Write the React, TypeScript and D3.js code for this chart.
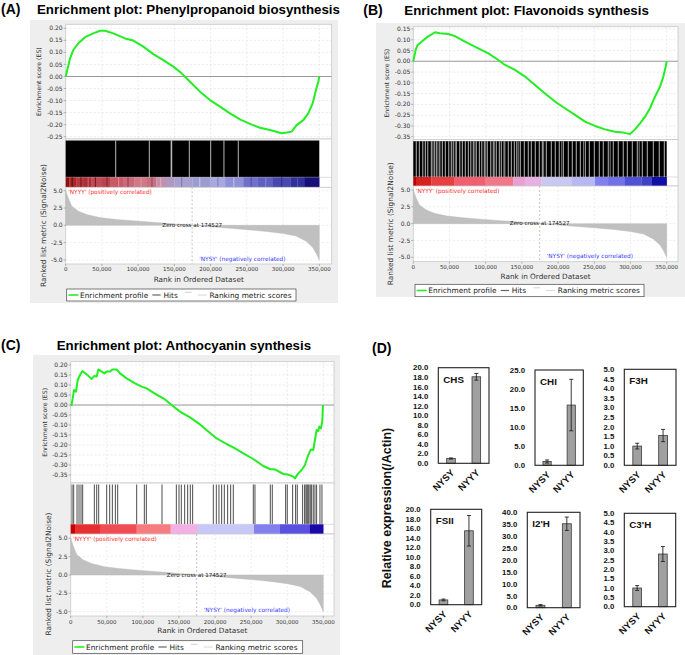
import React from 'react';
import * as d3 from 'd3';

// ---------------- GSEA shared data ----------------
const RANK_MAX = 350000;
const rankTicks = [0, 50000, 100000, 150000, 200000, 250000, 300000, 350000];
const metricTicks = [5.0, 2.5, 0.0, -2.5, -5.0];
const zeroCross = 174527;

const metricScores: [number, number][] = [
  [0, 5.0], [1400, 4.6], [3700, 3.9], [8300, 2.8], [17500, 2.05], [29000, 1.55], [47000, 1.12],
  [70000, 0.86], [93000, 0.66], [116000, 0.48], [139000, 0.3], [160000, 0.12], [174527, 0],
  [190000, -0.12], [208000, -0.28], [231000, -0.46], [254000, -0.66], [277000, -0.88],
  [300000, -1.18], [318000, -1.55], [332000, -2.3], [341000, -3.2], [346000, -4.1], [350000, -5.0],
];

// ---------------- Panel A ----------------
const esTicksA = [0.2, 0.15, 0.1, 0.05, 0.0, -0.05, -0.1, -0.15, -0.2, -0.25];
const esA: [number, number][] = [
  [0, 0], [2760, 0.034], [5980, 0.075], [10580, 0.11], [17480, 0.138], [26670, 0.163], [38170, 0.179],
  [47370, 0.19], [54270, 0.19], [65770, 0.179], [81860, 0.158], [93360, 0.149], [107160, 0.124],
  [120950, 0.093], [134750, 0.068], [148550, 0.041], [160050, 0.013], [171540, -0.022], [185340, -0.063],
  [199140, -0.098], [212930, -0.125], [226730, -0.153], [240530, -0.178], [254320, -0.197],
  [268120, -0.213], [281920, -0.222], [298010, -0.236], [304910, -0.233], [311810, -0.229],
  [318710, -0.202], [327910, -0.181], [334810, -0.153], [340790, -0.112], [345390, -0.056],
  [348610, -0.022], [350000, 0.0],
];
const hitGapsA = [69000, 115400, 145500, 146300, 170600, 200100, 218400, 238200];
const colorsA: [number, number, string][] = [
  [0, 5000, '#8c1010'], [5000, 15000, '#a82828'], [15000, 25000, '#b83a40'], [25000, 35000, '#a83038'],
  [35000, 50000, '#c04a55'], [50000, 62000, '#b84450'], [62000, 80000, '#c85a68'], [80000, 95000, '#c86878'],
  [95000, 112000, '#d07888'], [112000, 125000, '#c87080'], [125000, 137000, '#c890a8'], [137000, 150000, '#b098c0'],
  [150000, 175000, '#a8a0d0'], [175000, 200000, '#9c9cd0'], [200000, 220000, '#a8a8e0'], [220000, 245000, '#9090d8'],
  [245000, 265000, '#7070cc'], [265000, 285000, '#6060c0'], [285000, 310000, '#4848b0'], [310000, 330000, '#303098'],
  [330000, 350000, '#18107a'],
];
// darker/lighter stripes seen inside panel A colour bar
const stripesA: [number, string][] = [
  [9000, '#701010'], [21000, '#801818'], [31000, '#d06070'], [41000, '#801c24'], [57000, '#902830'],
  [73000, '#e08090'], [86000, '#a04050'], [104000, '#e090a0'], [119000, '#a05060'], [131000, '#d8a8c8'],
  [160000, '#8080b0'], [185000, '#c0c0e8'], [210000, '#8888c0'], [232000, '#b8b8ec'], [256000, '#5050b0'],
  [276000, '#8080d8'], [298000, '#303090'], [320000, '#5050c0'],
];

// ---------------- Panel B ----------------
const esTicksB = [0.15, 0.1, 0.05, 0.0, -0.05, -0.1, -0.15, -0.2, -0.25, -0.3, -0.35];
const esB: [number, number][] = [
  [0, 0], [3220, 0.052], [5990, 0.076], [11510, 0.091], [18420, 0.111], [25330, 0.125], [29930, 0.135],
  [36840, 0.13], [48350, 0.127], [57560, 0.117], [71380, 0.091], [89800, 0.06], [103610, 0.037],
  [117430, 0.006], [126640, -0.017], [140450, -0.04], [154270, -0.071], [168080, -0.11], [181900, -0.149],
  [195710, -0.187], [209530, -0.218], [223340, -0.249], [237160, -0.28], [250970, -0.3], [264790, -0.316],
  [278600, -0.327], [290120, -0.331], [299330, -0.338], [306230, -0.316], [313140, -0.288],
  [320050, -0.257], [326960, -0.218], [333860, -0.164], [340770, -0.118], [345380, -0.071],
  [348600, -0.025], [350000, 0.0],
];
const hitGapsB = [
  4100, 8300, 13100, 16600, 20000, 24900, 29000, 31800, 36600, 40100, 44200, 49000, 52500, 55200, 59400,
  64200, 67700, 71800, 76000, 79400, 82900, 87000, 91200, 94600, 98100, 102200, 107000, 110500, 114600,
  118800, 121500, 126400, 131200, 135400, 139500, 142900, 147800, 153300, 158800, 163000, 168500, 174000,
  178200, 183700, 190600, 196100, 201600, 207200, 214100, 219600, 225100, 230700, 237600, 243100, 250000,
  256900, 262400, 269300, 276200, 283100, 290000, 295600, 302500, 309400, 316300, 323200, 331500, 339700,
  346700,
];
const grayGapsB = [27000, 34000, 58000, 85000, 100000, 112000, 125000, 145000, 180000, 205000, 235000, 272000, 312000];
const colorsB: [number, number, string][] = [
  [0, 4600, '#b80000'], [4600, 25000, '#d82020'], [25000, 57000, '#e84040'], [57000, 99000, '#f06070'],
  [99000, 138000, '#f07888'], [138000, 154000, '#e8a0d0'], [154000, 177000, '#e8b0e0'], [177000, 219000, '#c8c8f0'],
  [219000, 251000, '#b8b8f0'], [251000, 269000, '#8080f0'], [269000, 292000, '#7070e8'], [292000, 315000, '#5050d8'],
  [315000, 329000, '#4040c8'], [329000, 350000, '#1010a8'],
];

// ---------------- Panel C ----------------
const esTicksC = [0.2, 0.15, 0.1, 0.05, 0.0, -0.05, -0.1, -0.15, -0.2, -0.25, -0.3, -0.35];
const esC: [number, number][] = [
  [920, -0.005], [2770, 0.033], [4620, 0.075], [7390, 0.067], [9700, 0.125], [12930, 0.15], [16160, 0.17],
  [23090, 0.15], [29090, 0.13], [32320, 0.145], [36010, 0.142], [38320, 0.178], [42940, 0.167],
  [46630, 0.158], [49860, 0.167], [54480, 0.167], [57710, 0.178], [63710, 0.178], [68330, 0.158],
  [77570, 0.133], [89110, 0.108], [98340, 0.092], [105270, 0.083], [112190, 0.067], [121430, 0.047],
  [130660, 0.028], [139900, 0.0], [151440, -0.033], [165290, -0.062], [179140, -0.097], [190680, -0.133],
  [202220, -0.167], [216070, -0.195], [227620, -0.217], [239160, -0.242], [253010, -0.27], [266860, -0.305],
  [276100, -0.32], [283020, -0.322], [294560, -0.345], [301490, -0.348], [308420, -0.358], [310720, -0.367],
  [315340, -0.342], [319960, -0.325], [324570, -0.3], [329190, -0.25], [332890, -0.222], [336120, -0.225],
  [338420, -0.175], [340730, -0.125], [343040, -0.13], [344420, -0.108], [346730, -0.117], [348580, -0.083],
  [349500, 0.0],
];
const hitsC = [
  1850, 4150, 8770, 11540, 14310, 16620, 32780, 36010, 38780, 49860, 54020, 57710, 61870, 65100, 91420,
  102040, 104800, 126500, 146360, 150050, 153280, 157900, 162060, 165750, 168980, 197610, 201760, 205460,
  209150, 212850, 217460, 221620, 225310, 253010, 255320, 276560, 279330, 297800, 300110, 307500, 311650,
  313960, 321350, 324120, 325960, 327350, 328730, 330120, 331960, 333810, 336120, 338420, 340730, 345350,
  348120,
];
const colorsC: [number, number, string][] = [
  [0, 6000, '#c80000'], [6000, 40600, '#e6302f'], [40600, 91400, '#f04c54'], [91400, 138500, '#f67c80'],
  [138500, 176000, '#f2b0e4'], [176000, 254000, '#c8c8f6'], [254000, 290000, '#8080ee'],
  [290000, 331500, '#5850e0'], [331500, 350000, '#1a08aa'],
];

// ---------------- Panel D data ----------------
const groups = ['NYSY', 'NYYY'];
const chsMean = [1.0, 18.1];
const chsErr = [0.12, 0.7];
const chsTicks = [0, 2, 4, 6, 8, 10, 12, 14, 16, 18, 20];
const chiMean = [1.0, 15.8];
const chiErr = [0.4, 6.75];
const chiTicks = [0, 5, 10, 15, 20, 25];
const f3hMean = [1.0, 1.55];
const f3hErr = [0.15, 0.32];
const f3hTicks = [0, 0.5, 1, 1.5, 2, 2.5, 3, 3.5, 4, 4.5, 5];
const fsiiMean = [1.0, 15.5];
const fsiiErr = [0.18, 3.2];
const fsiiTicks = [0, 2, 4, 6, 8, 10, 12, 14, 16, 18, 20];
const i2hMean = [1.0, 35.2];
const i2hErr = [0.3, 2.8];
const i2hTicks = [0, 5, 10, 15, 20, 25, 30, 35, 40];
const c3hMean = [1.0, 2.82];
const c3hErr = [0.13, 0.4];
const c3hTicks = [0, 0.5, 1, 1.5, 2, 2.5, 3, 3.5, 4, 4.5, 5];

// ---------------- Layouts ----------------
const layoutA = {
  bgX: 30, bgY: 20, bgW: 308, bgH: 283, x0: 65.7, x1: 319.3, right: 331.7, esTop: 24.3, esHiY: 28.3,
  esLoY: 136.7, esBottom: 139, hitsBottom: 177.3, colorBottom: 187.3, m5Y: 190.7, mm5Y: 260, mBottom: 264,
  xTickY: 271.2, xTitleY: 281.5, legX: 66.7, legY: 289, legW: 229.3, legH: 12, esLabelX: 39.3,
  mLabelX: 43.3, mLabelY: 225.5, titleX: 37, titleY: 14, letterX: 1, letterY: 14,
};
const layoutB = {
  bgX: 376, bgY: 23, bgW: 309, bgH: 274, x0: 413.3, x1: 666.7, right: 678, esTop: 26.7, esHiY: 29,
  esLoY: 136.7, esBottom: 139.7, hitsBottom: 177, colorBottom: 186, m5Y: 190, mm5Y: 257.3, mBottom: 261.7,
  xTickY: 268.8, xTitleY: 278.5, legX: 415, legY: 284.3, legW: 229, legH: 12.4, esLabelX: 386.7,
  mLabelX: 390.7, mLabelY: 223.8, titleX: 404.3, titleY: 15, letterX: 363.3, letterY: 15,
};
const layoutC = {
  bgX: 33, bgY: 355, bgW: 307, bgH: 300, x0: 70.7, x1: 323.3, right: 334, esTop: 361.7, esHiY: 365,
  esLoY: 475, esBottom: 483, hitsBottom: 524.3, colorBottom: 534, m5Y: 538.3, mm5Y: 611.7, mBottom: 616,
  xTickY: 623.5, xTitleY: 633, legX: 72.7, legY: 640.7, legW: 230, legH: 12.6, esLabelX: 45,
  mLabelX: 48.3, mLabelY: 574, titleX: 56.7, titleY: 349.5, letterX: 1, letterY: 349.5,
};

const GF = 'DejaVu Sans, sans-serif';
const AF = 'Liberation Sans, Arial, sans-serif';

function Gsea(props: any) {
  const { L, es, esTicks, hitsMode, hits, gaps, grayGaps, colors, stripes, title, letter } = props;
  const x = d3.scaleLinear().domain([0, RANK_MAX]).range([L.x0, L.x1]);
  const yE = d3.scaleLinear().domain([esTicks[0], esTicks[esTicks.length - 1]]).range([L.esHiY, L.esLoY]);
  const yM = d3.scaleLinear().domain([5, -5]).range([L.m5Y, L.mm5Y]);
  const esLine = d3.line<[number, number]>().x((d) => x(d[0])).y((d) => yE(d[1]));
  const mArea = d3.area<[number, number]>().x((d) => x(d[0])).y0(yM(0)).y1((d) => yM(d[1]));
  const fmt = d3.format(',');
  const pw = L.right - L.x0;
  const hitsTop = L.esBottom + 1.5;
  const zx = x(zeroCross);
  const legCy = L.legY + L.legH / 2;
  return (
    <g>
      <rect x={L.bgX} y={L.bgY} width={L.bgW} height={L.bgH} fill="#eeeeee" />
      <text x={L.letterX} y={L.letterY} fontFamily={AF} fontWeight="bold" fontSize={14}>{letter}</text>
      <text x={L.titleX} y={L.titleY} fontFamily={AF} fontWeight="bold" fontSize={13.3}>{title}</text>

      {/* ES plot */}
      <rect x={L.x0} y={L.esTop} width={pw} height={L.esBottom - L.esTop} fill="#fff" stroke="#c8c8c8" strokeWidth={0.8} />
      {rankTicks.map((t) => (
        <line key={'gv' + t} x1={x(t)} x2={x(t)} y1={L.esTop} y2={L.esBottom} stroke="#dcdcdc" strokeWidth={0.6} strokeDasharray="2,2" />
      ))}
      {esTicks.map((t: number) => (
        <line key={'gh' + t} x1={L.x0} x2={L.right} y1={yE(t)} y2={yE(t)} stroke="#dcdcdc" strokeWidth={0.6} strokeDasharray="2,2" />
      ))}
      <line x1={L.x0} x2={L.right} y1={yE(0)} y2={yE(0)} stroke="#9a9a9a" strokeWidth={1.1} />
      <path d={esLine(es) || ''} fill="none" stroke="#22ee22" strokeWidth={2} strokeLinejoin="round" />
      {esTicks.map((t: number) => (
        <g key={'et' + t}>
          <line x1={L.x0 - 2} x2={L.x0} y1={yE(t)} y2={yE(t)} stroke="#888" strokeWidth={0.6} />
          <text x={L.x0 - 3} y={yE(t)} dy="0.35em" textAnchor="end" fontFamily={GF} fontSize={6} fill="#333">{t.toFixed(2)}</text>
        </g>
      ))}
      <text transform={`translate(${L.esLabelX},${(L.esTop + L.esBottom) / 2}) rotate(-90)`} textAnchor="middle" dy="0.35em" fontFamily={GF} fontSize={6.2} fill="#333">Enrichment score (ES)</text>

      {/* hits and colour bar */}
      <rect x={L.x0} y={L.esBottom} width={pw} height={L.colorBottom - L.esBottom} fill="#fff" stroke="#c8c8c8" strokeWidth={0.8} />
      {hitsMode === 'dense' && (
        <g>
          <rect x={x(0)} y={hitsTop} width={x(RANK_MAX) - x(0)} height={L.hitsBottom - hitsTop} fill="#000" />
          {gaps.map((g: number) => (
            <line key={'gp' + g} x1={x(g)} x2={x(g)} y1={hitsTop} y2={L.hitsBottom} stroke="#e6e6e6" strokeWidth={0.8} />
          ))}
          {(grayGaps || []).map((g: number) => (
            <line key={'gg' + g} x1={x(g)} x2={x(g)} y1={hitsTop} y2={L.hitsBottom} stroke="#8a8a8a" strokeWidth={0.9} />
          ))}
        </g>
      )}
      {hitsMode === 'sparse' && hits.map((h: number) => (
        <line key={'h' + h} x1={x(h)} x2={x(h)} y1={hitsTop} y2={L.hitsBottom} stroke="#111" strokeWidth={0.75} />
      ))}
      <line x1={L.x0} x2={L.right} y1={L.hitsBottom} y2={L.hitsBottom} stroke="#c8c8c8" strokeWidth={0.6} />
      {colors.map((c: [number, number, string]) => (
        <rect key={'c' + c[0]} x={x(c[0])} y={L.hitsBottom} width={x(c[1]) - x(c[0]) + 0.2} height={L.colorBottom - L.hitsBottom} fill={c[2]} />
      ))}
      {(stripes || []).map((s: [number, string]) => (
        <line key={'s' + s[0]} x1={x(s[0])} x2={x(s[0])} y1={L.hitsBottom} y2={L.colorBottom} stroke={s[1]} strokeWidth={1.2} />
      ))}

      {/* ranked list metric */}
      <rect x={L.x0} y={L.colorBottom} width={pw} height={L.mBottom - L.colorBottom} fill="#fff" stroke="#c8c8c8" strokeWidth={0.8} />
      {rankTicks.map((t) => (
        <line key={'mv' + t} x1={x(t)} x2={x(t)} y1={L.colorBottom} y2={L.mBottom} stroke="#e0e0e0" strokeWidth={0.6} strokeDasharray="2,2" />
      ))}
      {metricTicks.map((t) => (
        <line key={'mh' + t} x1={L.x0} x2={L.right} y1={yM(t)} y2={yM(t)} stroke="#e0e0e0" strokeWidth={0.6} strokeDasharray="2,2" />
      ))}
      <path d={mArea(metricScores) || ''} fill="#c0c0c0" stroke="#b8b8b8" strokeWidth={0.4} />
      <line x1={zx} x2={zx} y1={L.colorBottom} y2={L.mBottom} stroke="#aaa" strokeWidth={0.7} strokeDasharray="2,2" />
      <text x={zx} y={yM(0)} dy="0.3em" textAnchor="middle" fontFamily={GF} fontSize={5.6} fill="#222">{'Zero cross at ' + zeroCross}</text>
      <text x={L.x0 + 2.5} y={L.colorBottom + 6.5} fontFamily={GF} fontSize={5.8} fill="#ff3030">'NYYY' (positively correlated)</text>
      <text x={zx + 7} y={yM(-5) + 0.5} fontFamily={GF} fontSize={5.8} fill="#4040ff">'NYSY' (negatively correlated)</text>
      {metricTicks.map((t) => (
        <g key={'mt' + t}>
          <line x1={L.x0 - 2} x2={L.x0} y1={yM(t)} y2={yM(t)} stroke="#888" strokeWidth={0.6} />
          <text x={L.x0 - 3} y={yM(t)} dy="0.35em" textAnchor="end" fontFamily={GF} fontSize={6} fill="#333">{t.toFixed(1)}</text>
        </g>
      ))}
      {rankTicks.map((t) => (
        <g key={'xt' + t}>
          <line x1={x(t)} x2={x(t)} y1={L.mBottom} y2={L.mBottom + 2} stroke="#888" strokeWidth={0.6} />
          <text x={x(t)} y={L.xTickY} textAnchor="middle" fontFamily={GF} fontSize={5.5} fill="#333">{fmt(t)}</text>
        </g>
      ))}
      <text x={(L.x0 + L.right) / 2} y={L.xTitleY} textAnchor="middle" fontFamily={GF} fontSize={7.3} fill="#333">Rank in Ordered Dataset</text>
      <text transform={`translate(${L.mLabelX},${L.mLabelY}) rotate(-90)`} textAnchor="middle" dy="0.35em" fontFamily={GF} fontSize={7.4} fill="#333">Ranked list metric (Signal2Noise)</text>

      {/* legend */}
      <rect x={L.legX} y={L.legY} width={L.legW} height={L.legH} fill="#fff" stroke="#444" strokeWidth={0.7} />
      <line x1={L.legX + 1.7} x2={L.legX + 11.7} y1={legCy} y2={legCy} stroke="#22ee22" strokeWidth={1.6} />
      <text x={L.legX + 13.3} y={legCy} dy="0.35em" fontFamily={GF} fontSize={7.4} fill="#222">Enrichment profile</text>
      <line x1={L.legX + 85.7} x2={L.legX + 94} y1={legCy} y2={legCy} stroke="#666" strokeWidth={1.2} />
      <text x={L.legX + 96.7} y={legCy} dy="0.35em" fontFamily={GF} fontSize={7.4} fill="#222">Hits</text>
      <line x1={L.legX + 118.3} x2={L.legX + 125} y1={legCy - 2.7} y2={legCy - 2.7} stroke="#bbb" strokeWidth={0.7} />
      <line x1={L.legX + 131} x2={L.legX + 140} y1={legCy} y2={legCy} stroke="#ddd" strokeWidth={1.2} />
      <text x={L.legX + 142.7} y={legCy} dy="0.35em" fontFamily={GF} fontSize={7.4} fill="#222">Ranking metric scores</text>
    </g>
  );
}

function BarBox(props: any) {
  const { B, name, mean, err, ticks } = props;
  const y = d3.scaleLinear().domain([0, ticks[ticks.length - 1]]).range([B.bottom, B.top]);
  const x = d3.scalePoint<string>().domain(groups).range([B.left, B.right]).padding(0.5);
  const bw = (B.right - B.left) * 0.17;
  return (
    <g fontFamily={AF} fontWeight="bold">
      {ticks.map((t: number) => (
        <text key={t} x={B.left - 10} y={y(t)} dy="0.35em" textAnchor="end" fontSize={7.8} fill="#111">{t.toFixed(1)}</text>
      ))}
      {groups.map((g, i) => {
        const cx = x(g) as number;
        return (
          <g key={g}>
            <rect x={cx - bw / 2} y={y(mean[i])} width={bw} height={y(0) - y(mean[i])} fill="#a0a0a0" stroke="#3a3a3a" strokeWidth={0.8} />
            <line x1={cx} x2={cx} y1={y(mean[i] + err[i])} y2={y(mean[i] - err[i])} stroke="#222" strokeWidth={0.9} />
            <line x1={cx - 2} x2={cx + 2} y1={y(mean[i] + err[i])} y2={y(mean[i] + err[i])} stroke="#222" strokeWidth={0.9} />
            <line x1={cx - 2} x2={cx + 2} y1={y(mean[i] - err[i])} y2={y(mean[i] - err[i])} stroke="#222" strokeWidth={0.9} />
            <text transform={`translate(${cx + 4},${B.bottom + 10}) rotate(-45)`} textAnchor="end" fontSize={9.5} fill="#111">{g}</text>
          </g>
        );
      })}
      <rect x={B.left} y={B.top} width={B.right - B.left} height={B.bottom - B.top} fill="none" stroke="#222" strokeWidth={1.1} />
      <text x={B.left + 5} y={B.top + 15} fontSize={9.8} fill="#111">{name}</text>
    </g>
  );
}

const boxCHS = { left: 438.3, right: 489, top: 367.7, bottom: 463.3 };
const boxCHI = { left: 535, right: 583.3, top: 370, bottom: 465.3 };
const boxF3H = { left: 624.3, right: 676, top: 369.3, bottom: 465.3 };
const boxFSII = { left: 430.7, right: 481.7, top: 509.3, bottom: 604.7 };
const boxI2H = { left: 527.3, right: 580, top: 512.3, bottom: 607.7 };
const boxC3H = { left: 624.3, right: 675.7, top: 513.3, bottom: 606.7 };

export default function App() {
  return (
    <svg width={685} height={655} style={{ position: 'absolute', left: 0, top: 0, background: '#fff' }}>
      <rect x={0} y={0} width={685} height={655} fill="#fff" />
      <Gsea L={layoutA} es={esA} esTicks={esTicksA} hitsMode="dense" gaps={hitGapsA} colors={colorsA} stripes={stripesA}
        title="Enrichment plot: Phenylpropanoid biosynthesis" letter="(A)" />
      <Gsea L={layoutB} es={esB} esTicks={esTicksB} hitsMode="dense" gaps={hitGapsB} grayGaps={grayGapsB} colors={colorsB}
        title="Enrichment plot: Flavonoids synthesis" letter="(B)" />
      <Gsea L={layoutC} es={esC} esTicks={esTicksC} hitsMode="sparse" hits={hitsC} colors={colorsC}
        title="Enrichment plot: Anthocyanin synthesis" letter="(C)" />

      <text x={372} y={353} fontFamily={AF} fontWeight="bold" fontSize={14}>(D)</text>
      <text transform="translate(387,508) rotate(-90)" textAnchor="middle" dy="0.35em" fontFamily={AF} fontWeight="bold" fontSize={12.5} fill="#111">Relative expression(/Actin)</text>
      <BarBox B={boxCHS} name="CHS" mean={chsMean} err={chsErr} ticks={chsTicks} />
      <BarBox B={boxCHI} name="CHI" mean={chiMean} err={chiErr} ticks={chiTicks} />
      <BarBox B={boxF3H} name="F3H" mean={f3hMean} err={f3hErr} ticks={f3hTicks} />
      <BarBox B={boxFSII} name="FSII" mean={fsiiMean} err={fsiiErr} ticks={fsiiTicks} />
      <BarBox B={boxI2H} name="I2'H" mean={i2hMean} err={i2hErr} ticks={i2hTicks} />
      <BarBox B={boxC3H} name="C3'H" mean={c3hMean} err={c3hErr} ticks={c3hTicks} />
    </svg>
  );
}
